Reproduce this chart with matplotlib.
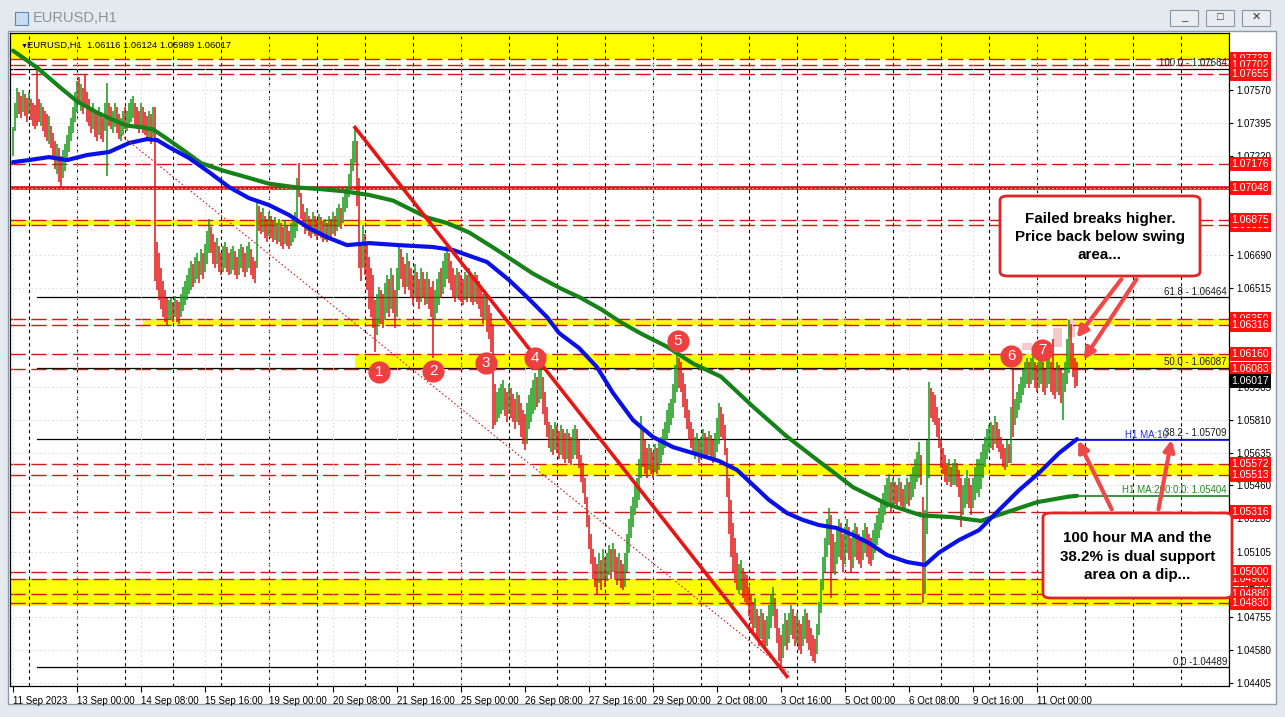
import matplotlib
matplotlib.use("Agg")
import matplotlib.pyplot as plt
import numpy as np
from matplotlib.patches import Rectangle, FancyBboxPatch, FancyArrowPatch
from matplotlib.transforms import blended_transform_factory

plt.rcParams['font.family'] = ['Liberation Sans', 'DejaVu Sans']

######################################################################## data
# prices are stored in pips above 1.0400 ; bar 0 = 11 Sep 16:00 (H1)
BASE = 1.04

x_labels = ['11 Sep 2023', '13 Sep 00:00', '14 Sep 08:00', '15 Sep 16:00', '19 Sep 00:00',
            '20 Sep 08:00', '21 Sep 16:00', '25 Sep 00:00', '26 Sep 08:00', '27 Sep 16:00',
            '29 Sep 00:00', '2 Oct 08:00', '3 Oct 16:00', '5 Oct 00:00', '6 Oct 08:00',
            '9 Oct 16:00', '11 Oct 00:00']

price_ticks = [1.07570, 1.07395, 1.07220, 1.07045, 1.06870, 1.06690, 1.06515, 1.06340,
               1.06165, 1.05985, 1.05810, 1.05635, 1.05460, 1.05285, 1.05105, 1.04930,
               1.04755, 1.04580, 1.04405]
# ticks whose labels sit fully under a price box on the chart
hidden_ticks = [1.07045, 1.06870, 1.06340, 1.06165]

bar_hi = [337, 350, 358, 356, 354, 357, 355, 353, 356, 352,
          350, 349, 368, 352, 350, 348, 346, 344, 343, 338,
          334, 330, 328, 326, 322, 325, 328, 333, 338, 342,
          348, 356, 362, 364, 360, 358, 365, 356, 352, 348,
          350, 346, 344, 348, 345, 342, 350, 361, 350, 348,
          346, 350, 348, 344, 342, 346, 348, 346, 350, 352,
          354, 350, 348, 346, 350, 348, 345, 343, 346, 344,
          348, 348, 276, 270, 262, 255, 250, 246, 245, 246,
          244, 247, 245, 244, 248, 252, 255, 258, 262, 266,
          264, 268, 270, 266, 272, 270, 275, 282, 288, 284,
          280, 276, 278, 274, 270, 274, 276, 273, 270, 272,
          274, 271, 268, 272, 275, 273, 270, 274, 276, 272,
          268, 266, 297, 295, 292, 294, 290, 288, 292, 290,
          287, 289, 286, 288, 286, 284, 287, 285, 282, 286,
          288, 292, 310, 318, 302, 296, 292, 294, 290, 288,
          292, 290, 288, 291, 289, 287, 288, 286, 290, 288,
          292, 290, 294, 296, 294, 300, 304, 306, 312, 320,
          330, 337, 330, 310, 275, 285, 280, 275, 268, 262,
          258, 245, 248, 252, 250, 248, 254, 258, 256, 262,
          258, 250, 262, 275, 272, 268, 264, 270, 266, 262,
          258, 264, 260, 256, 262, 260, 256, 260, 256, 252,
          255, 250, 256, 260, 262, 266, 270, 275, 270, 266,
          262, 258, 262, 260, 258, 256, 260, 258, 262, 258,
          256, 260, 258, 255, 252, 248, 250, 246, 242, 238,
          232, 200, 196, 198, 200, 202, 198, 196, 200, 198,
          195, 192, 196, 194, 190, 186, 184, 190, 194, 198,
          202, 206, 204, 208, 210, 204, 196, 188, 180, 178,
          176, 180, 178, 175, 178, 176, 174, 176, 174, 172,
          176, 178, 176, 170, 162, 158, 150, 140, 130, 120,
          112, 108, 104, 110, 106, 112, 108, 110, 114, 112,
          115, 112, 108, 110, 106, 104, 110, 120, 128, 135,
          140, 146, 150, 160, 183, 176, 170, 166, 168, 166,
          164, 168, 166, 170, 172, 176, 180, 186, 190, 192,
          200, 210, 217, 214, 212, 206, 200, 192, 186, 180,
          176, 172, 174, 170, 172, 176, 174, 172, 175, 173,
          170, 174, 182, 190, 188, 184, 178, 166, 150, 138,
          126, 118, 110, 104, 106, 102, 100, 98, 92, 88,
          84, 86, 80, 76, 80, 78, 74, 76, 82, 88,
          92, 86, 80, 70, 66, 72, 78, 74, 78, 82,
          80, 76, 78, 74, 72, 76, 80, 78, 74, 70,
          66, 64, 72, 84, 96, 108, 118, 128, 134, 130,
          120, 116, 124, 128, 126, 120, 124, 128, 124, 118,
          122, 126, 124, 120, 118, 122, 126, 124, 120, 118,
          122, 126, 130, 134, 138, 142, 146, 150, 152, 148,
          150, 148, 146, 150, 148, 144, 146, 150, 148, 152,
          156, 160, 164, 169, 162, 140, 133, 170, 201, 198,
          196, 194, 188, 182, 170, 166, 162, 158, 160, 156,
          158, 160, 158, 154, 150, 146, 150, 154, 150, 146,
          150, 156, 160, 160, 164, 168, 172, 176, 178, 180,
          178, 183, 180, 176, 172, 168, 166, 170, 168, 188,
          208, 192, 196, 200, 204, 208, 212, 214, 212, 214,
          216, 212, 210, 214, 216, 212, 208, 214, 216, 212,
          224, 208, 212, 210, 208, 206, 212, 224, 234, 232,
          222, 214, 212]

bar_lo = [322, 335, 342, 344, 342, 345, 343, 340, 344, 341,
          338, 336, 338, 340, 338, 335, 332, 330, 328, 326,
          320, 315, 312, 308, 305, 310, 314, 320, 324, 330,
          334, 340, 345, 350, 346, 344, 348, 340, 338, 334,
          336, 332, 330, 333, 331, 329, 335, 311, 338, 336,
          334, 337, 334, 331, 330, 333, 336, 335, 338, 340,
          342, 338, 336, 334, 337, 334, 333, 330, 332, 328,
          332, 255, 250, 245, 240, 236, 233, 231, 234, 235,
          233, 236, 233, 232, 236, 239, 242, 245, 248, 250,
          252, 254, 256, 254, 258, 256, 260, 264, 270, 270,
          264, 262, 264, 260, 258, 260, 262, 260, 258, 259,
          261, 258, 256, 258, 262, 260, 257, 260, 262, 258,
          256, 254, 262, 282, 280, 281, 278, 276, 279, 278,
          276, 277, 275, 276, 274, 272, 275, 274, 272, 274,
          276, 278, 282, 300, 288, 284, 280, 282, 279, 278,
          280, 279, 277, 279, 278, 276, 277, 276, 278, 277,
          280, 279, 282, 284, 283, 286, 292, 294, 300, 306,
          314, 318, 295, 262, 255, 262, 258, 250, 240, 236,
          230, 217, 226, 232, 232, 230, 234, 238, 236, 240,
          238, 230, 236, 250, 256, 252, 248, 252, 250, 246,
          242, 246, 244, 240, 244, 246, 242, 243, 240, 236,
          214, 234, 238, 242, 246, 248, 252, 256, 254, 250,
          246, 244, 246, 245, 244, 242, 245, 244, 246, 244,
          242, 244, 243, 240, 236, 232, 234, 228, 224, 217,
          176, 178, 180, 182, 184, 186, 183, 180, 184, 182,
          180, 176, 180, 178, 172, 168, 165, 168, 176, 180,
          184, 186, 188, 190, 192, 184, 178, 172, 166, 164,
          162, 165, 163, 160, 162, 160, 158, 160, 158, 157,
          160, 162, 160, 155, 148, 142, 136, 124, 112, 104,
          96, 92, 88, 94, 90, 96, 92, 95, 98, 96,
          100, 96, 93, 95, 91, 90, 92, 100, 110, 118,
          124, 130, 134, 138, 150, 156, 152, 150, 154, 152,
          150, 153, 152, 154, 158, 162, 166, 170, 174, 178,
          182, 190, 196, 198, 196, 188, 182, 176, 170, 166,
          164, 160, 162, 158, 160, 162, 161, 160, 162, 160,
          158, 160, 164, 168, 172, 170, 162, 140, 120, 108,
          100, 94, 90, 88, 90, 86, 84, 82, 76, 72,
          68, 70, 64, 60, 64, 62, 58, 60, 64, 70,
          76, 70, 62, 52, 49, 54, 60, 58, 62, 66,
          64, 60, 62, 58, 56, 60, 64, 62, 58, 55,
          52, 51, 56, 66, 78, 90, 100, 108, 114, 86,
          100, 98, 104, 108, 106, 100, 104, 110, 106, 100,
          102, 108, 106, 104, 102, 106, 110, 108, 104, 103,
          106, 110, 114, 118, 122, 126, 130, 134, 136, 132,
          134, 136, 134, 137, 135, 133, 134, 136, 135, 138,
          140, 144, 148, 150, 146, 83, 88, 120, 150, 182,
          180, 178, 172, 166, 155, 152, 148, 146, 148, 145,
          146, 146, 145, 140, 124, 130, 134, 136, 134, 130,
          134, 138, 142, 140, 144, 150, 156, 160, 164, 166,
          165, 168, 166, 164, 160, 156, 154, 156, 158, 158,
          172, 178, 182, 186, 190, 194, 198, 200, 198, 200,
          202, 198, 196, 198, 200, 196, 194, 198, 200, 196,
          194, 192, 196, 194, 190, 181, 196, 200, 206, 208,
          204, 198, 199]

# g = up bar, r = down bar
bar_dir = ("gggrrgrrgr" "rrrrgrrrgr" "rrgrrggggg" "gggrgrrrrr" "grrgrrggrr"
           "ggrrggrggg" "grrrgrrrgr" "grrrrrrrgg" "rgrrgggggg" "rggrgrgggr"
           "rrgrrggrrg" "grrggrrggr" "rrgrrgrrgr" "rgrgrrgrrg" "gggrrrrgrr"
           "grrgrrgrgr" "grggrggggg" "ggrrrgrrrr" "rrggrrggrg" "rrggrrrgrr"
           "rgrrgrrgrr" "rgggrgggrr" "rrgrrrgrgr" "rgrrrrgrrr" "rrggggrrgr"
           "rrgrrrrggg" "ggrggrrrrg" "rgrrgrrgrr" "ggrrrrrrrr" "rrrgrgrggr"
           "grrgrrgggg" "gggggrrrgr" "rgrggggggg" "gggrrrrrrr" "rggrggrrgr"
           "rgggrrrrrr" "rrrggrrrrr" "rgrrgrrggg" "grrrrggrgg" "rrgrrggrrr"
           "rrgggggggr" "rgggrrggrr" "ggrrrggrrr" "gggggggggr" "grrgrrggrg"
           "ggggrrgggr" "rrrrrrrrgr" "ggrrrgggrr" "gggggggggg" "rgrrrrrgrg"
           "rgggggggrg" "grrggrrggr" "rrgrrggggr" "rrr")

# moving averages (bar, pips)
ma100_bar = [0, 8, 18, 27, 37, 48, 58, 67, 72, 78, 88, 98, 108, 118, 128, 138, 148, 158,
             167, 178, 193, 210, 220, 237, 248, 257, 267, 273, 283, 292, 300, 310, 320,
             330, 340, 353, 362, 370, 378, 387, 395, 403, 412, 420, 428, 437, 447, 456,
             463, 473, 483, 493, 503, 513, 523, 532]
ma100_val = [318.5, 319.6, 321.2, 319.6, 322.3, 323.9, 328.7, 330.8, 330.3, 326.5, 320.7,
             313.2, 305.2, 299.3, 295.6, 290.3, 283.3, 278.0, 274.2, 275.3, 274.2, 273.2,
             271.6, 265.2, 255.6, 246.5, 235.8, 227.3, 219.3, 209.1, 195.3, 180.8, 171.8,
             166.4, 163.2, 159.0, 154.2, 146.2, 138.2, 131.2, 127.5, 124.8, 123.2, 119.5,
             115.2, 108.8, 105.1, 103.5, 110.1, 116.8, 122.1, 132.8, 143.4, 152.6, 163.2,
             170.7]
ma200_bar = [0, 12, 24, 32, 42, 48, 57, 65, 70, 77, 85, 94, 105, 115, 128, 142, 155, 165,
             178, 190, 207, 217, 228, 240, 250, 260, 274, 284, 294, 304, 314, 327, 340,
             354, 370, 387, 404, 420, 437, 454, 470, 484, 495, 512, 528, 532]
ma200_val = [378, 369, 358, 351, 345, 342, 338, 337, 336, 331, 325, 318, 314, 311, 307,
             305, 304, 303, 301, 298, 289, 286, 281, 273, 266, 259, 251, 246, 240, 233,
             227, 220, 211, 204, 188, 172, 158, 145, 136, 130, 129, 127, 131, 137, 140,
             140.4]

# horizontal objects
dashed_levels = [1.07738, 1.07702, 1.07655, 1.07176, 1.06875, 1.06851, 1.06350, 1.06316,
                 1.06160, 1.06083, 1.05572, 1.05513, 1.05316, 1.05000, 1.04960, 1.04880,
                 1.04830]
solid_level = 1.07048
label_levels = [1.07738, 1.07702, 1.07655, 1.07176, 1.07048, 1.06851, 1.06875, 1.06350,
                1.06316, 1.06160, 1.06083, 1.05572, 1.05513, 1.05316, 1.04960, 1.05000,
                1.04880, 1.04830]
last_price = 1.06017

fib_names = ['100.0 - 1.07684', '61.8 - 1.06464', '50.0 - 1.06087', '38.2 - 1.05709', '0.0 -1.04489']
fib_levels = [1.07684, 1.06464, 1.06087, 1.05709, 1.04489]
fib_from = [-1.5, 12, 12, 12, 12]

zone_lo = [1.07738, 1.06851, 1.06316, 1.06083, 1.05513, 1.04818]
zone_hi = [1.07900, 1.06875, 1.06350, 1.06160, 1.05572, 1.04962]
zone_from = [-1.5, -1.5, 65, 171, 263.5, -1.5]
zone_to = [608, 223.5, 608, 608, 608, 608]

trend_bar = [171, 387]
trend_val = [337, 44]
dot_bar = [54, 388]
dot_val = [333, 46]

marker_num = ['1', '2', '3', '4', '5', '6', '7']
marker_bar = [183, 210, 236.5, 261, 332.5, 499, 514.5]
marker_val = [206.5, 207, 211.3, 213.9, 223, 215, 218.2]

pink_bar = [(504.5, 509.5), (520, 524.5), (527.5, 531)]
pink_val = [(218.2, 221.9), (219.8, 230), (225, 234)]

ma100_level = 1.05700
ma200_level = 1.05404


def P(v):
    return BASE + np.asarray(v, dtype=float) / 1e4

######################################################################## figure

W, H = 1285, 717
fig = plt.figure(figsize=(W / 100, H / 100), dpi=100)
fig.patch.set_facecolor('#E4E9EF')


def fp(x, y):
    return (x / W, 1 - y / H)


# window chrome
fig.add_artist(Rectangle(fp(8, 704), (1276 - 8) / W, (704 - 31) / H, transform=fig.transFigure,
                         facecolor='white', edgecolor='#8E99A6', lw=1, zorder=0))
fig.add_artist(Rectangle(fp(15, 25), 13 / W, 13 / H, transform=fig.transFigure,
                         facecolor='#C9DDF0', edgecolor='#5C86B3', lw=0.8))
fig.text(*fp(33, 18), 'EURUSD,H1', fontsize=10.5, color='#8C939B', va='center')
for bx, glyph in zip([1170, 1206, 1242], ['_', '\u25A1', '\u2715']):
    fig.add_artist(Rectangle(fp(bx, 26), 28 / W, 16 / H, transform=fig.transFigure,
                             facecolor='#E9EDF2', edgecolor='#8A96A3', lw=0.8))
    fig.text(*fp(bx + 14, 17), glyph, fontsize=8, ha='center', va='center', color='#333333')

ax = fig.add_axes([10 / W, 1 - 686 / H, (1229 - 10) / W, (686 - 33) / H])
ax.set_xlim(-1.5, 608)
ax.set_ylim(1.04389, 1.078743)
ax.set_facecolor('white')
for s in ax.spines.values():
    s.set_color('black')
    s.set_linewidth(0.9)

# grid + day separators
ax.set_xticks(np.arange(len(x_labels)) * 32)
ax.set_xticklabels(x_labels, fontsize=7, ha='left')
ax.set_yticks(price_ticks)
ax.set_yticklabels(['' if t in hidden_ticks else '%.5f' % t for t in price_ticks], fontsize=7)
ax.yaxis.tick_right()
ax.tick_params(axis='y', length=3, pad=2, width=0.8)
ax.tick_params(axis='x', length=4, pad=3, width=0.8)
ax.grid(True, color='#D6D6D6', lw=0.6, dashes=(2, 3), zorder=0.6)
for b in range(8, 609, 24):
    ax.axvline(b, color='black', lw=0.8, dashes=(3, 3), zorder=0.8)

# zones
for lo, hi, a, b in zip(zone_lo, zone_hi, zone_from, zone_to):
    ax.fill_between([a, b], lo, hi, color='#FFFF00', lw=0, zorder=0.5)
for (a, b), (lo, hi) in zip(pink_bar, pink_val):
    ax.fill_between([a, b], P(lo), P(hi), color='#F6CACA', lw=0, zorder=0.55)

# levels
for lvl in dashed_levels:
    ax.axhline(lvl, color='#D01818', lw=1.0, dashes=(11, 4), zorder=1.2)
ax.axhline(solid_level, color='#E01010', lw=2.6, zorder=1.3)
for name, lvl, a in zip(fib_names, fib_levels, fib_from):
    ax.plot([a, 608], [lvl, lvl], color='black', lw=0.9, zorder=1.1)
    ax.text(607, lvl + 0.00003, name, fontsize=7, ha='right', va='bottom', color='#1A1A1A', zorder=4)

# price bars
idx = np.arange(len(bar_hi))
up = np.array([c == 'g' for c in bar_dir])
hi = P(bar_hi)
lo = P(bar_lo)
ax.vlines(idx[up], lo[up], hi[up], color='#139A13', lw=1.1, zorder=2)
ax.vlines(idx[~up], lo[~up], hi[~up], color='#E21212', lw=1.1, zorder=2)

# moving averages
ax.plot(ma200_bar, P(ma200_val), color='#17821A', lw=3, zorder=3, solid_capstyle='round')
ax.plot(ma100_bar, P(ma100_val), color='#0A10E8', lw=3, zorder=3.1, solid_capstyle='round')
ax.plot([ma100_bar[-1], 608], [ma100_level, ma100_level], color='#0A10E8', lw=1.2, zorder=3)
ax.plot([ma200_bar[-1], 608], [ma200_level, ma200_level], color='#17821A', lw=1.2, zorder=3)
ax.text(556, ma100_level + 0.00003, 'H1 MA:10', fontsize=7, color='#2030D0', va='bottom', zorder=4)
ax.text(607, ma200_level + 0.00003, 'H1 MA:200:0:0: 1.05404', fontsize=7, color='#1E8A1E',
        ha='right', va='bottom', zorder=4)

# trend lines
ax.plot(trend_bar, P(trend_val), color='#E81515', lw=2.6, zorder=3.5)
ax.plot(dot_bar, P(dot_val), color='#D02020', lw=0.8, dashes=(1.5, 2), zorder=3.4)

# numbered markers
ax.plot(marker_bar, P(marker_val), 'o', ms=16, color='#EE4040', mec='none', zorder=5)
for n, b, v in zip(marker_num, marker_bar, marker_val):
    ax.text(b, P(v), n, fontsize=11, color='white', ha='center', va='center', zorder=5.1)

# header band text
ax.text(0.009, 0.985, '\u25BC', transform=ax.transAxes, fontsize=5, va='top', zorder=6)
ax.text(0.014, 0.988, 'EURUSD,H1  1.06116 1.06124 1.05989 1.06017', transform=ax.transAxes,
        fontsize=6.8, va='top', zorder=6)

# price labels on right scale
tr = blended_transform_factory(ax.transAxes, ax.transData)
for lvl in label_levels:
    ax.text(1.0022, lvl, '%.5f' % lvl, transform=tr, fontsize=7.5, color='white', va='center',
            ha='left', clip_on=False, zorder=10,
            bbox=dict(boxstyle='square,pad=0.18', facecolor='#FF1010', edgecolor='none'))
ax.text(1.0022, last_price, '%.5f' % last_price, transform=tr, fontsize=7.5, color='white',
        va='center', ha='left', clip_on=False, zorder=10,
        bbox=dict(boxstyle='square,pad=0.18', facecolor='black', edgecolor='none'))

# annotation boxes
for (x0, y0, x1, y1), txt in zip([(1000, 196, 1200, 276), (1043, 513, 1232, 598)],
                                 ['Failed breaks higher.\nPrice back below swing\narea...',
                                  '100 hour MA and the\n38.2% is dual support\narea on a dip...']):
    fig.add_artist(FancyBboxPatch(fp(x0, y1), (x1 - x0) / W, (y1 - y0) / H,
                                  boxstyle='round,pad=0,rounding_size=0.006',
                                  transform=fig.transFigure, facecolor='white',
                                  edgecolor='#E02424', lw=2, zorder=20))
    fig.text(*fp((x0 + x1) / 2, (y0 + y1) / 2 + 1), txt, fontsize=10.9, fontweight='bold',
             ha='center', va='center', linespacing=1.4, zorder=21)

for (xa, ya), (xb, yb) in [((1123, 277), (1075, 340)), ((1138, 277), (1082, 362)),
                           ((1113, 512), (1077, 438)), ((1158, 512), (1172, 437))]:
    fig.add_artist(FancyArrowPatch(fp(xa, ya), fp(xb, yb), transform=fig.transFigure,
                                   arrowstyle='-|>', mutation_scale=16, color='#F04848',
                                   lw=3, zorder=22))

fig.savefig('out.png', dpi=100, facecolor=fig.get_facecolor())
